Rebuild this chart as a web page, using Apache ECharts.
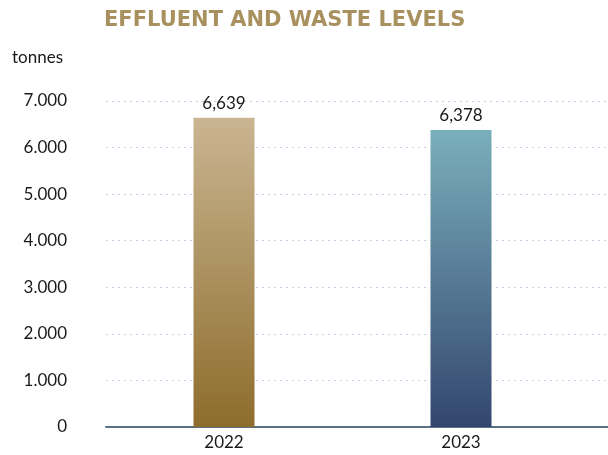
<!DOCTYPE html>
<html><head><meta charset="utf-8">
<script src="https://cdn.jsdelivr.net/npm/echarts@6/dist/echarts.min.js"></script>
<style>html,body{margin:0;padding:0;background:#fff}#c{width:608px;height:455px}</style>
</head><body><div id="c"></div>
<script>
const categories = ['2022', '2023'];
const values = [6639, 6378];
const yTicks = [0, 1000, 2000, 3000, 4000, 5000, 6000, 7000];
const titleText = 'EFFLUENT AND WASTE LEVELS';
const unitText = 'tonnes';

const gradients = [
  ['#cab592', '#8d6d2c'],
  ['#7aafbc', '#33466e']
];
const font = 'Lato, "Noto Sans", sans-serif';
const chart = echarts.init(document.getElementById('c'));
const fmtY = v => String(v).replace(/\B(?=(\d{3})+(?!\d))/g, '.');
const fmtV = v => String(v).replace(/\B(?=(\d{3})+(?!\d))/g, ',');

chart.setOption({
  animation: false,
  title: {
    text: titleText, left: 99, top: 5,
    textStyle: { color: '#a9915f', fontSize: 21, fontWeight: 'bold', fontFamily: '"DejaVu Sans", sans-serif' }
  },
  graphic: [{
    type: 'text', left: 12, top: 49,
    style: { text: unitText, fill: '#1a1a1a', fontSize: 17, fontFamily: font }
  }],
  grid: [
    { left: 106, right: 0, top: 101, bottom: 28 },
    { left: 105.5, right: 28.5, top: 101, bottom: 28 }
  ],
  xAxis: [
    { type: 'value', gridIndex: 0, min: 0, max: 1, show: true,
      axisLine: { show: true, lineStyle: { color: '#5b7082', width: 2 } },
      axisTick: { show: false }, axisLabel: { show: false }, splitLine: { show: false } },
    { type: 'category', gridIndex: 1, data: categories,
      axisLine: { show: false }, axisTick: { show: false },
      axisLabel: { color: '#1a1a1a', fontSize: 17, fontFamily: font, margin: 7 } }
  ],
  yAxis: [
    { type: 'value', gridIndex: 0, min: yTicks[0], max: yTicks[yTicks.length - 1], interval: 1000,
      axisLine: { show: false }, axisTick: { show: false },
      axisLabel: { color: '#1a1a1a', fontSize: 17, fontFamily: font, margin: 39, formatter: fmtY },
      splitLine: { show: true, lineStyle: { color: '#c9cde8', type: [2, 4], width: 1 } } },
    { type: 'value', gridIndex: 1, min: yTicks[0], max: yTicks[yTicks.length - 1], interval: 1000,
      show: false, splitLine: { show: false } }
  ],
  series: [{
    type: 'bar', xAxisIndex: 1, yAxisIndex: 1, barWidth: 61,
    data: values.map((v, i) => ({
      value: v,
      itemStyle: {
        color: new echarts.graphic.LinearGradient(0, 0, 0, 1, [
          { offset: 0, color: gradients[i][0] }, { offset: 1, color: gradients[i][1] }
        ])
      }
    })),
    label: { show: true, position: 'top', distance: 6, color: '#1a1a1a', fontSize: 17, fontFamily: font, formatter: p => fmtV(p.value) },
    z: 3
  }]
});
</script></body></html>
